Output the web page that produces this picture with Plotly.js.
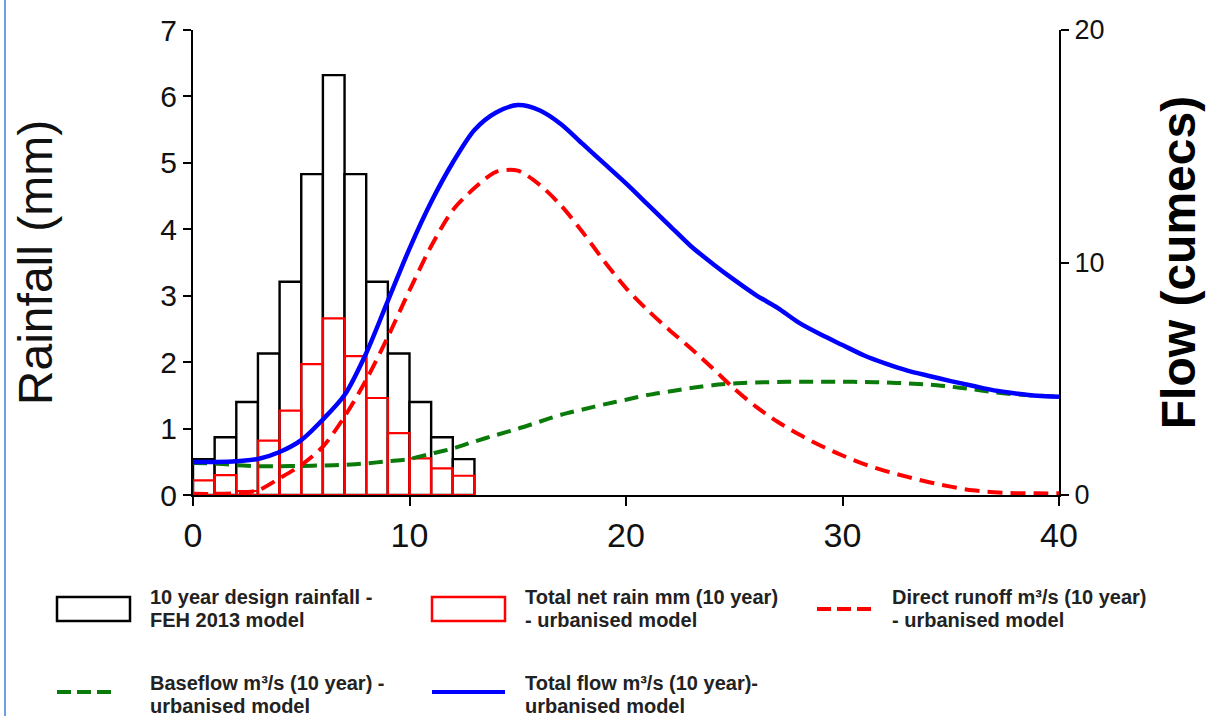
<!DOCTYPE html>
<html>
<head>
<meta charset="utf-8">
<script src="https://cdn.plot.ly/plotly-3.0.1.min.js"></script>
<style>
html,body{margin:0;padding:0;background:#fff;}
#chart{width:1215px;height:716px;}
</style>
</head>
<body>
<div id="chart"></div>
<script>
// ---- data ----
var rainTime = [0.5, 1.5, 2.5, 3.5, 4.5, 5.5, 6.5, 7.5, 8.5, 9.5, 10.5, 11.5, 12.5];
var designRain = [0.54, 0.87, 1.40, 2.13, 3.21, 4.83, 6.32, 4.83, 3.21, 2.13, 1.40, 0.87, 0.54];
var netRain = [0.22, 0.30, 0.06, 0.82, 1.27, 1.97, 2.66, 2.09, 1.46, 0.93, 0.55, 0.40, 0.29];

var flowTime = [0,1,2,3,4,5,6,7,8,9,10,11,12,13,14,15,16,17,18,19,20,21,22,23,24,25,26,27,28,29,30,31,32,33,34,35,36,37,38,39,40];
var directRunoff = [0.05,0.05,0.08,0.2,0.72,1.29,2.08,3.37,4.95,6.8,8.8,10.7,12.25,13.2,13.9,13.95,13.35,12.45,11.3,10.05,8.9,7.95,7.1,6.3,5.45,4.57,3.8,3.15,2.6,2.12,1.7,1.33,1.03,0.78,0.55,0.36,0.2,0.12,0.08,0.07,0.07];
var baseflow = [1.38,1.36,1.28,1.24,1.24,1.25,1.27,1.3,1.36,1.45,1.55,1.78,2.0,2.3,2.58,2.85,3.15,3.45,3.68,3.9,4.1,4.3,4.45,4.6,4.72,4.8,4.84,4.86,4.87,4.87,4.87,4.86,4.84,4.8,4.75,4.66,4.55,4.42,4.33,4.27,4.23];
var totalFlow = [1.42,1.42,1.45,1.55,1.85,2.36,3.25,4.3,6.1,8.35,10.6,12.6,14.3,15.7,16.45,16.77,16.55,15.95,15.1,14.25,13.4,12.5,11.6,10.7,9.95,9.25,8.6,8.05,7.4,6.9,6.45,6.0,5.65,5.35,5.12,4.9,4.7,4.5,4.37,4.27,4.23];

var xTicks = [0, 10, 20, 30, 40];
var rainTicks = [0, 1, 2, 3, 4, 5, 6, 7];
var flowTicks = [0, 10, 20];

var legendNames = [
  ["10 year design rainfall -", "FEH 2013 model"],
  ["Total net rain mm (10 year)", "- urbanised model"],
  ["Direct runoff m\u00b3/s (10 year)", "- urbanised model"],
  ["Baseflow m\u00b3/s (10 year) -", "urbanised model"],
  ["Total flow m\u00b3/s (10 year)-", "urbanised model"]
];

// ---- geometry helpers (plot area in pixels) ----
var L = 193, R = 1059, T = 30, B = 495;
function px(x){ return (x - L) / (R - L); }
function py(y){ return (B - y) / (B - T); }

var traces = [
  {type:'bar', x: rainTime, y: designRain, width: 1, name: legendNames[0].join(' '),
   marker:{color:'rgba(255,255,255,1)', line:{color:'#000000', width:2.4}}, yaxis:'y', showlegend:false},
  {type:'bar', x: rainTime, y: netRain, width: 1, name: legendNames[1].join(' '),
   marker:{color:'rgba(255,255,255,0)', line:{color:'#ff0000', width:2.2}}, yaxis:'y', showlegend:false},
  {type:'scatter', mode:'lines', x: flowTime, y: baseflow, yaxis:'y2', name: legendNames[3].join(' '),
   line:{color:'#0a7a0a', width:4, dash:'14px,8px', shape:'spline', smoothing:0.8}, showlegend:false},
  {type:'scatter', mode:'lines', x: flowTime, y: directRunoff, yaxis:'y2', name: legendNames[2].join(' '),
   line:{color:'#ff0000', width:4, dash:'15px,8px', shape:'spline', smoothing:0.8}, showlegend:false},
  {type:'scatter', mode:'lines', x: flowTime, y: totalFlow, yaxis:'y2', name: legendNames[4].join(' '),
   line:{color:'#0000ff', width:4.5, shape:'spline', smoothing:0.8}, showlegend:false}
];

var shapes = [
  // image frame line on the left
  {type:'line', xref:'paper', yref:'paper', x0:px(5), x1:px(5), y0:py(0), y1:py(716), line:{color:'#6f9fe0', width:2}},
  // legend swatches
  {type:'rect', xref:'paper', yref:'paper', x0:px(57), x1:px(130), y0:py(621), y1:py(597), line:{color:'#000', width:2.5}, fillcolor:'#fff'},
  {type:'rect', xref:'paper', yref:'paper', x0:px(432), x1:px(505), y0:py(621), y1:py(597), line:{color:'#ff0000', width:2.5}, fillcolor:'#fff'},
  {type:'line', xref:'paper', yref:'paper', x0:px(817), x1:px(872), y0:py(609), y1:py(609), line:{color:'#ff0000', width:4, dash:'14px,6px'}},
  {type:'line', xref:'paper', yref:'paper', x0:px(57), x1:px(112), y0:py(692), y1:py(692), line:{color:'#0a7a0a', width:4, dash:'14px,6px'}},
  {type:'line', xref:'paper', yref:'paper', x0:px(432), x1:px(505), y0:py(692), y1:py(692), line:{color:'#0000ff', width:4}}
];

var legendPos = [[148, 597], [523, 597], [890, 597], [148, 683], [523, 683]];
var annotations = [];
legendNames.forEach(function(lines, i){
  lines.forEach(function(t, j){
    annotations.push({xref:'paper', yref:'paper', x:px(legendPos[i][0]), y:py(legendPos[i][1] + j*23),
      xanchor:'left', yanchor:'middle', showarrow:false, text:t,
      font:{family:'Liberation Sans, Arial, sans-serif', size:20, color:'#222', weight:'bold'}});
  });
});

var layout = {
  width:1215, height:716,
  margin:{l:L, r:1215-R, t:T, b:716-B, pad:0},
  paper_bgcolor:'#fff', plot_bgcolor:'#fff',
  barmode:'overlay', bargap:0,
  showlegend:false,
  font:{family:'Liberation Sans, Arial, sans-serif', color:'#000'},
  xaxis:{range:[0,40], tickvals:xTicks, ticktext:xTicks.map(String), showgrid:false, zeroline:false,
    showline:true, linecolor:'#000', linewidth:2, ticks:'outside', ticklen:9, tickwidth:2, tickcolor:'#000',
    tickfont:{size:34, color:'#111'}},
  yaxis:{range:[0,7], tickvals:rainTicks, ticktext:rainTicks.map(String), showgrid:false, zeroline:false,
    showline:true, linecolor:'#000', linewidth:2, ticks:'outside', ticklen:8, tickwidth:2, tickcolor:'#000',
    tickfont:{size:30, color:'#111'},
    title:{text:'Rainfall (mm)', font:{size:48, color:'#111'}, standoff:93}},
  yaxis2:{range:[0,20], tickvals:flowTicks, ticktext:flowTicks.map(String), overlaying:'y', side:'right',
    showgrid:false, zeroline:false, showline:true, linecolor:'#000', linewidth:2, ticks:'outside', ticklen:8,
    tickwidth:2, tickcolor:'#000', tickfont:{size:27, color:'#111'},
    title:{text:'Flow (cumecs)', font:{size:48, color:'#000', weight:'bold'}, standoff:58}},
  shapes:shapes,
  annotations:annotations
};

Plotly.newPlot('chart', traces, layout, {displayModeBar:false, staticPlot:true});
</script>
</body>
</html>
